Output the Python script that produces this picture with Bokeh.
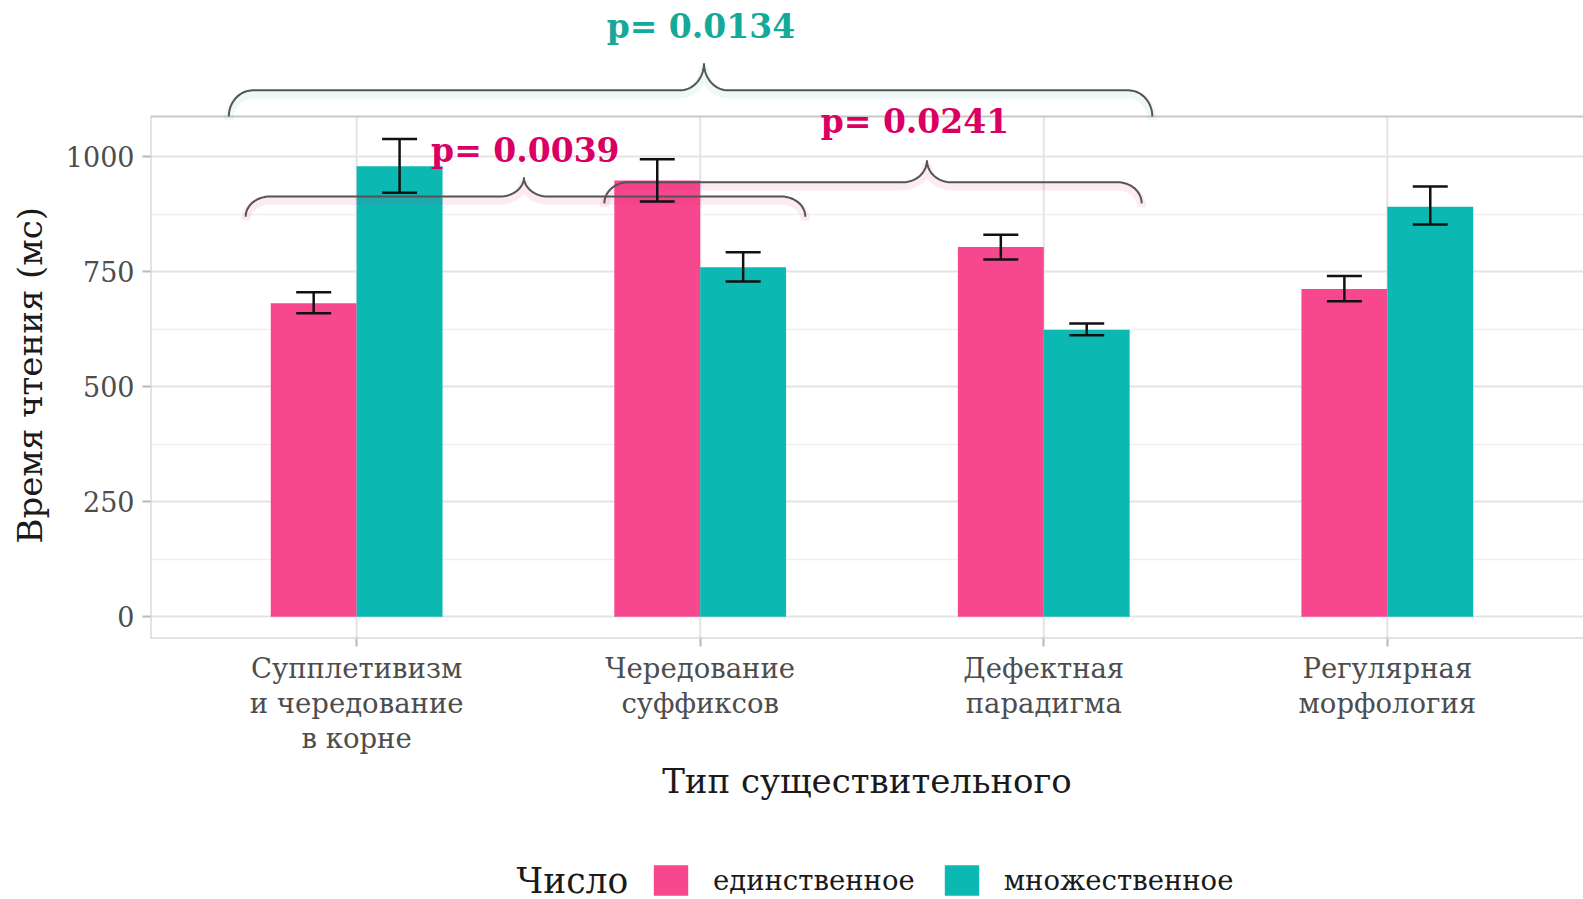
import numpy as np
from bokeh.plotting import figure
from bokeh.layouts import column
from bokeh.models import (Range1d, FixedTicker, ColumnDataSource, Whisker, TeeHead,
                          Legend, LegendItem, Label, Title, Plot, VBar)
from bokeh.core.properties import value
from bokeh.embed import file_html
from bokeh.resources import INLINE

# ---------------- data ----------------
categories = ["Супплетивизм\nи чередование\nв корне", "Чередование\nсуффиксов",
              "Дефектная\nпарадигма", "Регулярная\nморфология"]
series = ["единственное", "множественное"]
legend_title = "Число"
x_title = "Тип существительного"
y_title = "Время чтения (мс)"
sing_mean = [682, 949, 804, 713]
sing_lo = [660, 903, 777, 686]
sing_hi = [706, 995, 831, 741]
plur_mean = [980, 760, 624, 892]
plur_lo = [922, 729, 612, 853]
plur_hi = [1039, 793, 638, 936]
y_ticks = [0, 250, 500, 750, 1000]
y_minor = [125, 375, 625, 875]

# significance braces (x in category units, y in ms)
p_labels = ["p= 0.0039", "p= 0.0241", "p= 0.0134"]
brace_x0 = [0.677, 1.721, 0.628]
brace_x1 = [2.306, 3.285, 3.316]
brace_xm = [1.487, 2.660, 2.011]
brace_yend = [870, 899, 1088]
brace_yline = [914, 945, 1145]
brace_ypeak = [956, 993, 1204]
p_x = [1.491, 2.625, 2.002]
p_y = [1015, 1077, 1283]

# ---------------- style ----------------
PINK = "#F7488F"
TEAL = "#0CB9B2"
P_PINK = "#DA0063"
P_TEAL = "#14A998"
FONT = "DejaVu Serif"
BAR_W = 0.25
X_START, X_END = 0.4, 4.571
Y_START, Y_END = -47.4, 1323
PANEL_TOP = 1088
PANEL_RIGHT = 4.6
W = 1583

p = figure(width=W, height=818, output_backend="svg", toolbar_location=None,
           x_range=Range1d(X_START, X_END), y_range=Range1d(Y_START, Y_END),
           min_border_left=150, min_border_right=0, min_border_top=8,
           min_border_bottom=180)
p.outline_line_color = None
p.background_fill_color = "white"
p.border_fill_color = "white"

# grid
p.xgrid.visible = False
p.ygrid.ticker = FixedTicker(ticks=y_ticks, minor_ticks=y_minor)
p.ygrid.grid_line_color = "#e4e4e4"
p.ygrid.grid_line_width = 2
p.ygrid.minor_grid_line_color = "#f0f0f0"
p.ygrid.minor_grid_line_width = 1.5

xpos = np.arange(1, len(categories) + 1, dtype=float)
p.segment(x0=xpos, x1=xpos, y0=[Y_START] * len(xpos), y1=[PANEL_TOP] * len(xpos),
          line_color="#e4e4e4", line_width=2)

# bars
src_s = ColumnDataSource(dict(x=xpos - BAR_W / 2, top=sing_mean, lo=sing_lo, hi=sing_hi))
src_p = ColumnDataSource(dict(x=xpos + BAR_W / 2, top=plur_mean, lo=plur_lo, hi=plur_hi))
r_s = p.vbar(x="x", top="top", bottom=0, width=BAR_W, source=src_s,
             fill_color=PINK, line_color=None)
r_p = p.vbar(x="x", top="top", bottom=0, width=BAR_W, source=src_p,
             fill_color=TEAL, line_color=None)

for src in (src_s, src_p):
    w = Whisker(base="x", upper="hi", lower="lo", source=src, dimension="height",
                line_color="#111111", line_width=2.5, level="overlay",
                upper_head=TeeHead(size=35, line_color="#111111", line_width=2.5),
                lower_head=TeeHead(size=35, line_color="#111111", line_width=2.5))
    p.add_layout(w)

# panel border
p.quad(left=[X_START], right=[PANEL_RIGHT], bottom=[Y_START], top=[PANEL_TOP],
       fill_color=None, line_color="#c8c8c8", line_width=2)


# braces
def brace_path(x0, x1, xm, ye, yl, yp, r=0.07, n=20):
    t = np.linspace(0, np.pi / 2, n)
    xs, ys = [], []
    xs += list(x0 + r * (1 - np.cos(t)))
    ys += list(ye + (yl - ye) * np.sin(t))
    xs += list(xm - r + r * np.sin(t))
    ys += list(yl + (yp - yl) * (1 - np.cos(t)))
    xs += list(xm + r - r * np.sin(t[::-1]))
    ys += list(yl + (yp - yl) * (1 - np.cos(t[::-1])))
    xs += list(x1 - r * (1 - np.cos(t[::-1])))
    ys += list(ye + (yl - ye) * np.sin(t[::-1]))
    return xs, ys


glow_cols = [P_PINK, P_PINK, P_TEAL]
bxs, bys = [], []
for i in range(len(p_labels)):
    bx, by = brace_path(brace_x0[i], brace_x1[i], brace_xm[i],
                        brace_yend[i], brace_yline[i], brace_ypeak[i])
    bxs.append(bx)
    bys.append(by)
    p.line(bx, [v - 8 for v in by], line_color=glow_cols[i], line_alpha=0.08,
           line_width=9)
p.multi_line(bxs, bys, line_color="#555555", line_width=2)

p.text(x=p_x, y=p_y, text=p_labels, text_color=[P_PINK, P_PINK, P_TEAL],
       text_font=value(FONT), text_font_style="bold", text_font_size="33px",
       text_align="center", text_baseline="middle")

# axes
xa = p.xaxis[0]
xa.ticker = FixedTicker(ticks=list(xpos), minor_ticks=[])
xa.major_label_overrides = {int(i + 1): c for i, c in enumerate(categories)}
xa.axis_line_color = None
xa.major_tick_out = 8
xa.major_tick_in = 0
xa.major_tick_line_color = "#b8b8b8"
xa.major_tick_line_width = 2
xa.minor_tick_line_color = None
xa.major_label_standoff = 5
xa.major_label_text_font = FONT
xa.major_label_text_font_size = "27.5px"
xa.major_label_text_color = "#4d4d4d"
xa.major_label_text_line_height = 1.1
xa.axis_label = x_title
xa.axis_label_text_font = FONT
xa.axis_label_text_font_size = "34px"
xa.axis_label_text_font_style = "normal"
xa.axis_label_text_color = "#1a1a1a"
xa.axis_label_standoff = 4

ya = p.yaxis[0]
ya.ticker = FixedTicker(ticks=y_ticks, minor_ticks=y_minor)
ya.axis_line_color = None
ya.major_tick_out = 8
ya.major_tick_in = 0
ya.major_tick_line_color = "#b8b8b8"
ya.major_tick_line_width = 2
ya.minor_tick_line_color = None
ya.major_label_standoff = 8
ya.major_label_text_font = FONT
ya.major_label_text_font_size = "27px"
ya.major_label_text_color = "#4d4d4d"
# blank spacer label keeps a gap between tick labels and the title
ya.axis_label = "\u2009"
ya.axis_label_text_font_size = "1px"
ya.axis_label_standoff = 8

# y title centred on the panel (not the whole frame)
p.add_layout(Title(text=y_title, align="left", offset=95, vertical_align="middle",
                   standoff=0, text_font=FONT, text_font_size="34px",
                   text_font_style="normal", text_color="#1a1a1a"), "left")

# ---------------- legend strip ----------------
lg = Plot(width=W, height=81, output_backend="svg", toolbar_location=None,
          x_range=Range1d(0, 1), y_range=Range1d(0, 1),
          min_border_left=150, min_border_right=0, min_border_top=0,
          min_border_bottom=0)
lg.outline_line_color = None
lg.background_fill_color = "white"
lg.border_fill_color = "white"
# proxy renderers for the legend keys (zero-height, so nothing is drawn)
key_src = ColumnDataSource(dict(x=[0.5], top=[0]))
k_s = lg.add_glyph(key_src, VBar(x="x", top="top", bottom=0, width=0.01,
                                 fill_color=PINK, line_color=None))
k_p = lg.add_glyph(key_src, VBar(x="x", top="top", bottom=0, width=0.01,
                                 fill_color=TEAL, line_color=None))
legend = Legend(items=[LegendItem(label=series[0], renderers=[k_s]),
                       LegendItem(label=series[1], renderers=[k_p])],
                orientation="horizontal", location=(499, 0))
legend.label_text_font = FONT
legend.label_text_font_size = "27.5px"
legend.label_text_color = "#1a1a1a"
legend.label_standoff = 21
legend.spacing = 25
legend.glyph_width = 43
legend.glyph_height = 38
legend.padding = 0
legend.margin = 0
legend.border_line_color = None
legend.background_fill_alpha = 0
lg.add_layout(legend, "center")
lg.add_layout(Label(x=366, y=19, x_units="screen", y_units="screen",
                    text=legend_title, text_font=FONT, text_font_size="34.5px",
                    text_color="#1a1a1a", text_baseline="middle", text_align="left"))

open("out.html", "w").write(file_html(column(p, lg), INLINE))
